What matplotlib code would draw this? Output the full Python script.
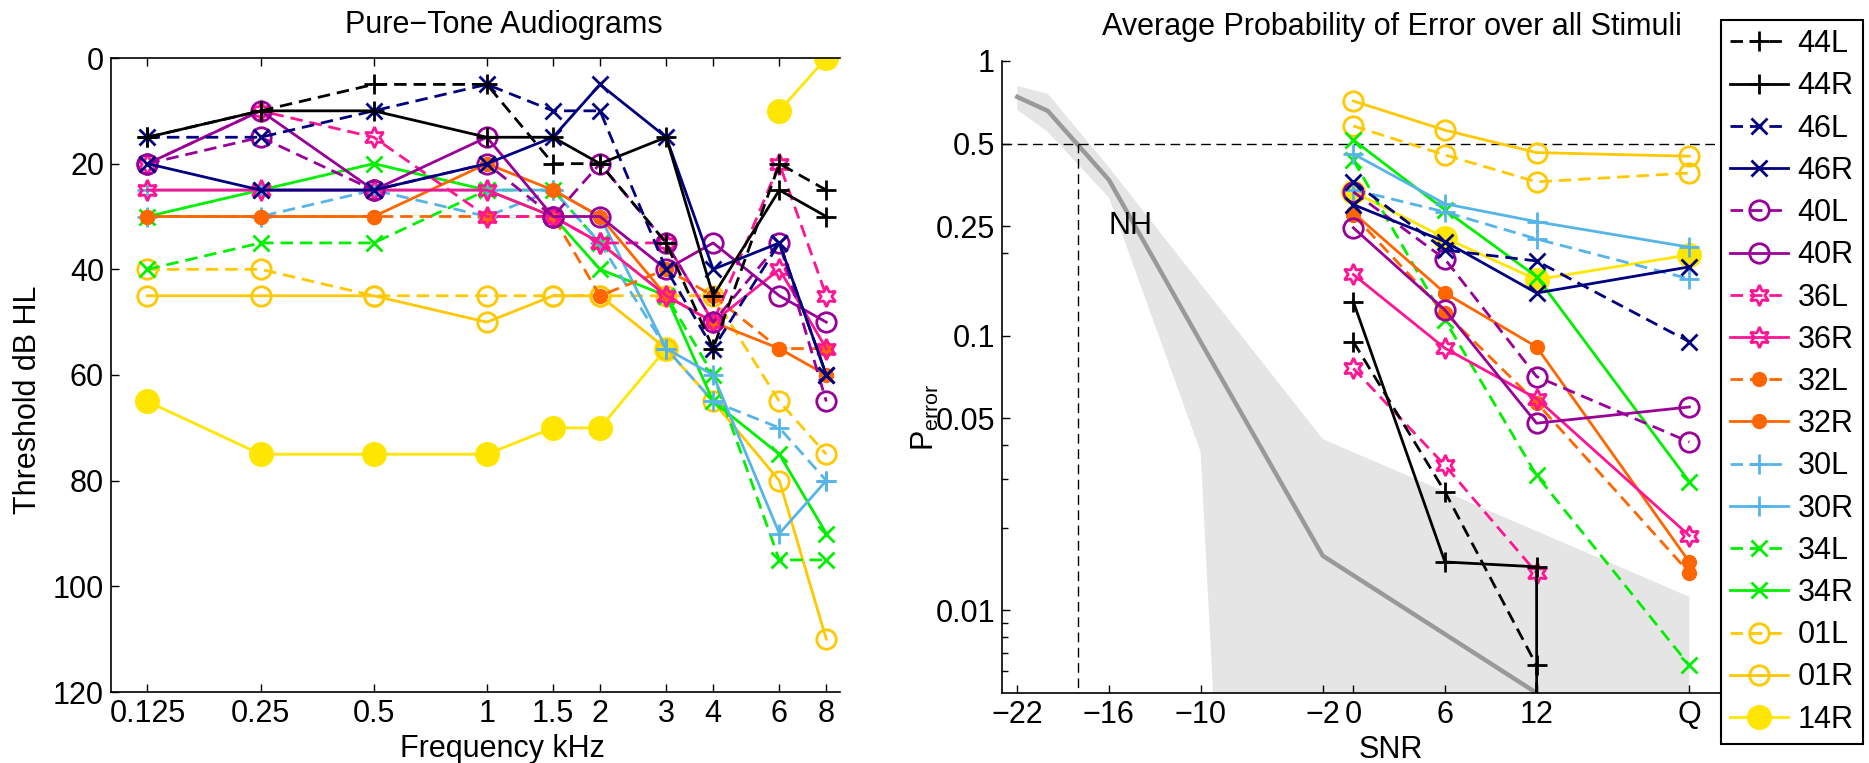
import numpy as np
import matplotlib
matplotlib.use('Agg')
import matplotlib.pyplot as plt
from matplotlib.ticker import FixedLocator, NullFormatter, NullLocator

plt.rcParams['font.family'] = ['Liberation Sans', 'DejaVu Sans']
plt.rcParams['mathtext.fontset'] = 'custom'
plt.rcParams['mathtext.rm'] = 'Liberation Sans'
plt.rcParams['mathtext.it'] = 'Liberation Sans:italic'

nan = np.nan

# ---------------- data ----------------
subjects = ['44L', '44R', '46L', '46R', '40L', '40R', '36L', '36R', '32L',
            '32R', '30L', '30R', '34L', '34R', '01L', '01R', '14R']

freq_khz = [0.125, 0.25, 0.5, 1, 1.5, 2, 3, 4, 6, 8]
freq_labels = ['0.125', '0.25', '0.5', '1', '1.5', '2', '3', '4', '6', '8']

# thresholds (dB HL)
thr_44L = [15, 10, 5, 5, 20, 20, 35, 55, 20, 25]
thr_44R = [15, 10, 10, 15, 15, 20, 15, 45, 25, 30]
thr_46L = [15, 15, 10, 5, 10, 10, 40, 55, 35, 60]
thr_46R = [20, 25, 25, 20, 15, 5, 15, 40, 35, 60]
thr_40L = [20, 15, 25, 20, 30, 20, 35, 50, 35, 65]
thr_40R = [20, 10, 25, 15, 30, 30, 40, 35, 45, 50]
thr_36L = [20, 10, 15, 30, 30, 35, 35, 50, 20, 45]
thr_36R = [25, 25, 25, 25, 30, 35, 45, 50, 40, 55]
thr_32L = [30, 30, 30, 30, 30, 45, 40, 45, 55, 55]
thr_32R = [30, 30, 30, 20, 25, 30, 45, 50, 55, 60]
thr_30L = [30, 30, 25, 30, 25, 35, 55, 65, 70, 80]
thr_30R = [25, 25, 25, 25, 25, 30, 55, 60, 90, 80]
thr_34L = [40, 35, 35, 25, 25, 35, 45, 60, 95, 95]
thr_34R = [30, 25, 20, 25, 30, 40, 45, 65, 75, 90]
thr_01L = [40, 40, 45, 45, 45, 45, 45, 45, 65, 75]
thr_01R = [45, 45, 45, 50, 45, 45, 55, 65, 80, 110]
thr_14R = [65, 75, 75, 75, 70, 70, 55, nan, 10, 0]

snr_values = [0, 6, 12, 22]
snr_ticks = [-22, -16, -10, -2, 0, 6, 12, 22]
snr_labels = ['\u221222', '\u221216', '\u221210', '\u22122', '0', '6', '12', 'Q']

# average probability of error
perr_44L = [0.095, 0.027, 0.0063, 0.0]
perr_44R = [0.133, 0.015, 0.0144, 0.0]
perr_46L = [0.363, 0.205, 0.187, 0.095]
perr_46R = [0.30, 0.22, 0.143, 0.178]
perr_40L = [0.334, 0.19, 0.071, 0.041]
perr_40R = [0.247, 0.124, 0.048, 0.055]
perr_36L = [0.076, 0.0337, 0.0137, nan]
perr_36R = [0.167, 0.09, 0.059, 0.0187]
perr_32L = [0.275, 0.121, 0.057, 0.0137]
perr_32R = [0.28, 0.143, 0.091, 0.015]
perr_30L = [0.34, 0.282, 0.225, 0.161]
perr_30R = [0.459, 0.302, 0.26, 0.21]
perr_34L = [0.436, 0.114, 0.031, 0.0063]
perr_34R = [0.516, 0.287, 0.164, 0.0294]
perr_01L = [0.58, 0.455, 0.363, 0.391]
perr_01R = [0.715, 0.56, 0.464, 0.45]
perr_14R = [0.334, 0.227, 0.16, 0.197]

# normal-hearing reference
nh_snr = [-22, -20, -16, -10, -2, 12]
nh_mean = [0.74, 0.658, 0.369, 0.095, 0.0158, 0.005]
nh_upper_snr = [-22, -20, -16, -2, 22]
nh_upper = [0.81, 0.76, 0.41, 0.042, 0.0112]
nh_lower_snr = [-22, -20, -16, -10, -2, 22]
nh_lower = [0.664, 0.552, 0.318, 0.0378, 1e-10, 1e-10]
nh_threshold_snr = -18
criterion = 0.5

thr_all = [thr_44L, thr_44R, thr_46L, thr_46R, thr_40L, thr_40R, thr_36L,
           thr_36R, thr_32L, thr_32R, thr_30L, thr_30R, thr_34L, thr_34R,
           thr_01L, thr_01R, thr_14R]
perr_all = [perr_44L, perr_44R, perr_46L, perr_46R, perr_40L, perr_40R,
            perr_36L, perr_36R, perr_32L, perr_32R, perr_30L, perr_30R,
            perr_34L, perr_34R, perr_01L, perr_01R, perr_14R]

# ---------------- styles ----------------
colors = {'44': 'black', '46': '#000080', '40': '#990099', '36': '#FF1493',
          '32': '#FF6600', '30': '#56B4E9', '34': '#00F000', '01': '#FFC800',
          '14': '#FFE600'}
STAR = (6, 1, 0)


def style(name):
    c = colors[name[:2]]
    ls = '-' if name.endswith('R') else (0, (4.5, 2.5))
    st = dict(color=c, linestyle=ls, linewidth=2.0, markeredgecolor=c,
              markeredgewidth=2.0)
    key = name[:2]
    if key in ('44', '30'):
        st.update(marker='+', markersize=15)
    elif key in ('46', '34'):
        st.update(marker='x', markersize=12)
    elif key in ('40', '01'):
        st.update(marker='o', markersize=14, markerfacecolor='none')
    elif key == '36':
        st.update(marker=STAR, markersize=15, markerfacecolor='none')
    elif key == '32':
        st.update(marker='o', markersize=9, markerfacecolor=c)
    elif key == '14':
        st.update(marker='o', markersize=16, markerfacecolor=c)
    return st


W, H = 1869, 763
fig = plt.figure(figsize=(W / 100, H / 100), dpi=100)
FS = 22

# ---------------- left: audiograms ----------------
ax1 = fig.add_axes([111 / W, 1 - 692 / H, 729 / W, 634 / H])
for i in reversed(range(len(subjects))):
    ax1.plot(freq_khz, thr_all[i], zorder=2 + (len(subjects) - i) * 0.01,
             **style(subjects[i]))
ax1.set_xscale('log')
ax1.set_xlim(0.1, 8.7)
ax1.set_ylim(120, 0)
ax1.set_xticks(freq_khz)
ax1.set_xticklabels(freq_labels)
ax1.xaxis.set_minor_locator(NullLocator())
ax1.set_yticks(range(0, 121, 20))
ax1.tick_params(direction='in', length=6, width=1, labelsize=FS,
                top=True, right=False, pad=5)
ax1.spines['right'].set_visible(False)
for s in ax1.spines.values():
    s.set_linewidth(1.2)
fig.text(504 / W, 1 - 33 / H, 'Pure\u2212Tone Audiograms', ha='center',
         va='baseline', fontsize=FS)
fig.text(502 / W, 1 - 757 / H, 'Frequency kHz', ha='center', va='baseline',
         fontsize=FS)
fig.text(28 / W, 1 - 400 / H, 'Threshold dB HL', ha='center', va='center',
         rotation=90, fontsize=FS)

# ---------------- right: probability of error ----------------
ax2 = fig.add_axes([1002 / W, 1 - 693 / H, 779 / W, 632 / H])
ax2.set_yscale('log', nonpositive='clip')
ax2.fill(list(nh_upper_snr) + list(nh_lower_snr[::-1]),
         list(nh_upper) + list(nh_lower[::-1]), color='#E5E5E5', lw=0,
         zorder=0)
ax2.plot(nh_snr, nh_mean, color='#999999', lw=3.2, zorder=1)
ax2.axhline(criterion, color='black', lw=1, ls=(0, (7, 4)), zorder=1)
ax2.vlines(nh_threshold_snr, 1e-6, criterion, color='black', lw=1,
           linestyles=[(0, (7, 4))], zorder=1)
handles = [None] * len(subjects)
for i in reversed(range(len(subjects))):
    ln, = ax2.plot(snr_values, perr_all[i], label=subjects[i],
                   zorder=2 + (len(subjects) - i) * 0.01,
                   **style(subjects[i]))
    handles[i] = ln
ax2.text(-16, 0.25, 'NH', ha='left', va='center', fontsize=FS)
ax2.set_xlim(-23, 28)
ax2.set_ylim(0.005, 1)
ax2.set_xticks(snr_ticks)
ax2.set_xticklabels(snr_labels)
ax2.set_yticks([0.01, 0.05, 0.1, 0.25, 0.5, 1])
ax2.set_yticklabels(['0.01', '0.05', '0.1', '0.25', '0.5', '1'])
ax2.yaxis.set_minor_locator(FixedLocator([0.2, 0.04, 0.03, 0.02, 0.009,
                                          0.008, 0.007, 0.006]))
ax2.yaxis.set_minor_formatter(NullFormatter())
ax2.tick_params(which='major', direction='in', length=6, width=1,
                labelsize=FS, pad=5)
ax2.tick_params(which='minor', direction='in', length=4, width=1)
ax2.spines['top'].set_visible(False)
ax2.spines['right'].set_visible(False)
for s in ax2.spines.values():
    s.set_linewidth(1.2)
fig.text(1392 / W, 1 - 35 / H,
         'Average Probability of Error over all Stimuli', ha='center',
         va='baseline', fontsize=FS)
fig.text(1391 / W, 1 - 758 / H, 'SNR', ha='center', va='baseline',
         fontsize=FS)
fig.text(925 / W, 1 - 417 / H, r'P$_{\rm error}$', ha='center',
         va='center', rotation=90, fontsize=FS)

leg = fig.legend(handles, subjects, loc='upper left',
                 bbox_to_anchor=(1721 / W, 1 - 20 / H), fontsize=FS,
                 frameon=True, fancybox=False, framealpha=1,
                 edgecolor='black', borderpad=0.3, labelspacing=0.4,
                 handlelength=1.9, handletextpad=0.3, borderaxespad=0)
leg.get_frame().set_linewidth(1.5)
leg.set_zorder(10)

fig.savefig('out.png', dpi=100)
